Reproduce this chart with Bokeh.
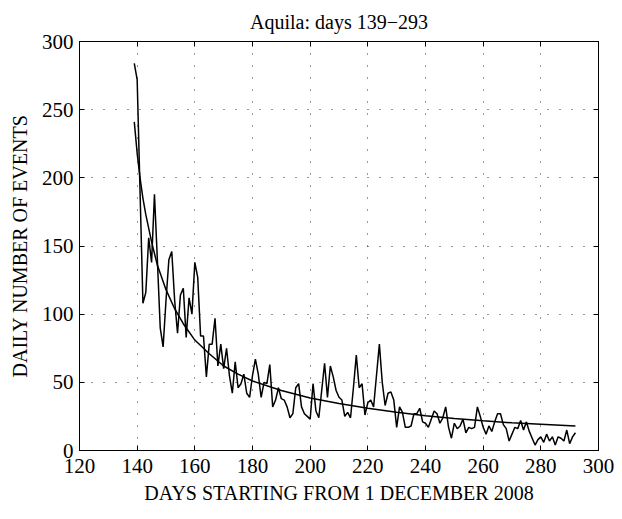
from bokeh.plotting import figure
from bokeh.models import LinearAxis, Range1d, FixedTicker, ColumnDataSource
from bokeh.embed import file_html
from bokeh.resources import INLINE

# ---- data ----
first_day = 139
daily_events = [
    284, 272, 190, 108, 116, 156, 138, 188, 140, 90,     # 139-148
    76, 110, 140, 146, 110, 86, 114, 119, 83, 112,       # 149-158
    100, 138, 127, 84, 84, 54, 78, 78, 97, 62,           # 159-168
    78, 60, 75, 55, 42, 65, 46, 49, 56, 42,              # 169-178
    39, 55, 67, 56, 39, 50, 49, 63, 32, 37,              # 179-188
    46, 38, 37, 32, 24, 27, 46, 49, 32, 27,              # 189-198
    25, 23, 49, 29, 24, 44, 64, 39, 62, 54,              # 199-208
    44, 39, 37, 25, 28, 24, 46, 70, 46, 49,              # 209-218
    26, 35, 37, 32, 55, 78, 50, 33, 42, 43,              # 219-228
    37, 17, 32, 28, 17, 17, 18, 27, 27, 31,              # 229-238
    21, 20, 17, 23, 29, 27, 20, 24, 32, 17,              # 239-248
    9, 20, 16, 18, 23, 13, 17, 16, 17, 32,               # 249-258
    25, 17, 12, 18, 14, 21, 27, 27, 19, 16,              # 259-268
    7, 12, 17, 16, 22, 15, 21, 14, 9, 4,                 # 269-278
    8, 10, 6, 12, 7, 10, 4, 10, 9, 7,                    # 279-288
    15, 5, 10, 13,                                       # 289-292
]
days = list(range(first_day, first_day + len(daily_events)))

fit_days = [139, 140, 141, 142, 143, 145, 147, 150, 153, 156, 160, 165, 170,
            175, 180, 190, 200, 210, 220, 230, 240, 250, 260, 270, 280, 292]
fit_values = [241, 218, 200, 185, 173, 153, 136, 118, 104, 93, 81, 71, 62,
              56, 51, 44, 38.5, 34.5, 31, 28, 25.5, 23.5, 21.8, 20.3, 19.3, 18]

x_ticks = [120, 140, 160, 180, 200, 220, 240, 260, 280, 300]
y_ticks = [0, 50, 100, 150, 200, 250, 300]

title_text = "Aquila: days 139\u2212293"
x_label = "DAYS STARTING FROM 1 DECEMBER 2008"
y_label = "DAILY NUMBER OF EVENTS"

FONT = "Liberation Serif"

p = figure(width=622, height=519, x_range=Range1d(120, 300), y_range=Range1d(0, 300),
           output_backend="svg", toolbar_location=None,
           min_border_left=79, min_border_right=24, min_border_top=41, min_border_bottom=69,
           background_fill_color="white", border_fill_color="white")

p.outline_line_color = "black"
p.outline_line_width = 1

src = ColumnDataSource(dict(x=days, y=daily_events))
p.line("x", "y", source=src, line_color="black", line_width=1.5)
fit_src = ColumnDataSource(dict(x=fit_days, y=fit_values))
p.line("x", "y", source=fit_src, line_color="black", line_width=1.5)

top_axis = LinearAxis(ticker=FixedTicker(ticks=x_ticks))
right_axis = LinearAxis(ticker=FixedTicker(ticks=y_ticks))
p.add_layout(top_axis, "above")
p.add_layout(right_axis, "right")

for ax in p.axis:
    ax.major_tick_in = 5
    ax.major_tick_out = 0
    ax.minor_tick_line_color = None
    ax.axis_line_color = "black"
    ax.major_tick_line_color = "black"
    ax.major_label_text_font = FONT
    ax.major_label_text_font_size = "21px"
    ax.major_label_text_color = "black"
    ax.major_label_standoff = 6

for ax in (top_axis, right_axis):
    ax.major_label_text_font_size = "0px"
    ax.major_label_text_color = None
    ax.major_label_standoff = 0

# the chart title, centred over the frame
top_axis.axis_label = title_text
top_axis.axis_label_standoff = 9
top_axis.axis_label_text_font = FONT
top_axis.axis_label_text_font_size = "20px"
top_axis.axis_label_text_font_style = "normal"
top_axis.axis_label_text_color = "black"

bx = p.below[0]
bx.ticker = FixedTicker(ticks=x_ticks)
bx.major_label_standoff = 8
bx.axis_label = x_label
bx.axis_label_standoff = 6
bx.axis_label_text_font = FONT
bx.axis_label_text_font_size = "20px"
bx.axis_label_text_font_style = "normal"
bx.axis_label_text_color = "black"

ly = p.left[0]
ly.ticker = FixedTicker(ticks=y_ticks)
ly.axis_label = y_label
ly.axis_label_standoff = 8
ly.axis_label_text_font = FONT
ly.axis_label_text_font_size = "20px"
ly.axis_label_text_font_style = "normal"
ly.axis_label_text_color = "black"

for g in (p.xgrid, p.ygrid):
    g.grid_line_color = "black"
    g.grid_line_dash = "1 11"
    g.grid_line_width = 1
    g.grid_line_alpha = 0.8

open("out.html", "w").write(file_html(p, INLINE))
